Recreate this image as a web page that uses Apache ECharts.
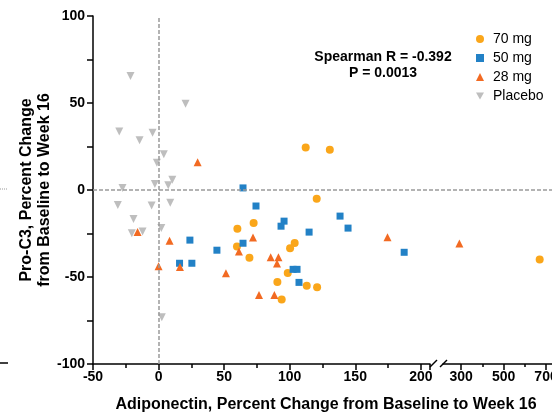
<!DOCTYPE html>
<html>
<head>
<meta charset="utf-8">
<script src="https://cdn.jsdelivr.net/npm/echarts@6/dist/echarts.min.js"></script>
<style>
  html, body { margin: 0; padding: 0; background: #fff; }
  #main { width: 552px; height: 416px; }
</style>
</head>
<body>
<div id="main"></div>
<script>
var myChart = echarts.init(document.getElementById('main'));

// values: x = adiponectin % change, y = Pro-C3 % change
var mg70X = [112.2, 130.6, 120.6, 72.5, 60.1, 103.8, 100.3, 59.8, 69.3, 98.5, 90.6, 113.0, 120.9, 93.9, 670];
var mg70Y = [24.4, 23.1, -5.0, -19.0, -22.2, -30.5, -33.5, -32.5, -38.9, -47.7, -52.9, -55.0, -55.9, -62.9, -40.0];

var mg50X = [64.4, 74.3, 95.7, 93.4, 138.4, 144.5, 114.8, 23.9, 64.4, 44.5, 16.0, 25.4, 102.6, 105.6, 107.1, 187.3];
var mg50Y = [1.2, -9.2, -17.9, -20.8, -15.0, -21.9, -24.2, -28.8, -30.6, -34.6, -42.1, -42.1, -45.6, -45.6, -53.1, -35.8];

var mg28X = [29.8, -16.0, 8.4, 0, 16.3, 72.0, 61.3, 85.5, 91.4, 90.3, 51.4, 76.6, 88.3, 174.6, 292];
var mg28Y = [15.9, -24.2, -29.1, -43.8, -44.2, -27.3, -35.4, -38.7, -38.7, -42.3, -47.9, -60.4, -60.4, -27.1, -30.8];

var placeboX = [-21.4, 20.6, -30, -4.6, -14.5, 4.0, -1.3, 10.5, -2.8, 7.4, -27.5, -31.1, -5.3, 8.9, -19.1, -20.4, -12.2, 2.1, 2.5];
var placeboY = [65.5, 49.6, 33.6, 32.9, 28.6, 20.5, 15.6, 5.9, 3.5, 2.7, 1.2, -8.6, -8.9, -7.3, -16.6, -24.9, -23.9, -21.9, -73.1];

var breakAt = 210;
var rightTicks = [300, 500, 700];
var rightMinorTicks = [400, 600];
var rightLabels = [300, 500, 700];

var font = 'Liberation Sans, Arial, sans-serif';

function points(xs, ys, right) {
  return xs.map(function (x, i) { return [x, ys[i]]; })
    .filter(function (p) { return right ? p[0] > breakAt : p[0] <= breakAt; });
}

var groups = [
  { name: '70 mg', xs: mg70X, ys: mg70Y, symbol: 'circle', size: 8, rotate: 0, color: '#FAA61A' },
  { name: '50 mg', xs: mg50X, ys: mg50Y, symbol: 'rect', size: 7, rotate: 0, color: '#2281C6' },
  { name: '28 mg', xs: mg28X, ys: mg28Y, symbol: 'triangle', size: 8, rotate: 0, color: '#F26A22' },
  { name: 'Placebo', xs: placeboX, ys: placeboY, symbol: 'triangle', size: 8, rotate: 180, color: '#BEBEBE' }
];

var series = [];
groups.forEach(function (g) {
  [false, true].forEach(function (right) {
    series.push({
      name: g.name,
      type: 'scatter',
      xAxisIndex: right ? 1 : 0,
      yAxisIndex: right ? 1 : 0,
      symbol: g.symbol,
      symbolSize: g.size,
      symbolRotate: g.rotate,
      itemStyle: { color: g.color, opacity: 1 },
      z: 3,
      data: points(g.xs, g.ys, right)
    });
  });
});

// reference lines at zero: vertical in the left panel, horizontal across both panels
var refLine = { color: '#9a9a9a', type: [4, 2], width: 1.5 };
series.push({
  type: 'line', xAxisIndex: 0, yAxisIndex: 0, data: [], z: 1,
  markLine: { silent: true, symbol: 'none', label: { show: false }, lineStyle: refLine,
    data: [{ xAxis: 0 }] }
});
series.push({
  type: 'line', xAxisIndex: 3, yAxisIndex: 2, data: [], z: 1,
  markLine: { silent: true, symbol: 'none', label: { show: false }, lineStyle: refLine,
    data: [{ yAxis: 0 }] }
});

var axisLineStyle = { color: '#000', width: 1.5 };
var tickLabel = { color: '#000', fontFamily: font, fontWeight: 'bold', fontSize: 14 };
var hidden = { axisLine: { show: false }, axisTick: { show: false }, axisLabel: { show: false }, splitLine: { show: false } };

var option = {
  animation: false,
  textStyle: { fontFamily: font },
  grid: [
    { left: 93, top: 16, width: 337, bottom: 52, outerBoundsMode: 'none' },
    { left: 443, top: 16, right: 0, bottom: 52, outerBoundsMode: 'none' },
    { left: 93, top: 16, right: 0, bottom: 52, outerBoundsMode: 'none' }
  ],
  legend: {
    orient: 'vertical',
    left: 476,
    top: 32,
    padding: 0,
    itemWidth: 8,
    itemHeight: 8,
    itemGap: 5,
    textStyle: { fontSize: 14, color: '#000', fontFamily: font, padding: [0, 0, 0, 4] },
    data: [
      { name: '70 mg', icon: 'circle' },
      { name: '50 mg', icon: 'rect' },
      { name: '28 mg', icon: 'triangle' },
      { name: 'Placebo', icon: 'path://M0,0 L10,0 L5,9 Z' }
    ]
  },
  xAxis: [
    {
      type: 'value', gridIndex: 0, min: -50, max: 207, interval: 50,
      axisLine: { show: true, onZero: false, lineStyle: axisLineStyle },
      axisTick: { show: true, length: 6, lineStyle: axisLineStyle },
      minorTick: { show: true, splitNumber: 2, length: 4, lineStyle: axisLineStyle },
      axisLabel: Object.assign({ margin: 6, showMaxLabel: false }, tickLabel),
      splitLine: { show: false }
    },
    {
      type: 'value', gridIndex: 1, min: 215, max: 728, position: 'bottom',
      axisLine: { show: true, onZero: false, lineStyle: axisLineStyle },
      axisTick: { show: true, length: 6, lineStyle: axisLineStyle, customValues: rightTicks },
      axisLabel: Object.assign({ margin: 6, customValues: rightLabels }, tickLabel),
      splitLine: { show: false }
    },
    {
      type: 'value', gridIndex: 1, min: 215, max: 728, position: 'bottom', offset: 0,
      axisLine: { show: false, onZero: false },
      axisTick: { show: true, length: 3, lineStyle: axisLineStyle, customValues: rightMinorTicks },
      axisLabel: { show: false },
      splitLine: { show: false }
    },
    Object.assign({ type: 'value', gridIndex: 2, min: 0, max: 1 }, hidden)
  ],
  yAxis: [
    {
      type: 'value', gridIndex: 0, min: -100, max: 100, interval: 50,
      name: 'Pro-C3, Percent Change\nfrom Baseline to Week 16',
      nameLocation: 'middle',
      nameGap: 39,
      nameMoveOverlap: false,
      nameTextStyle: { color: '#000', fontFamily: font, fontWeight: 'bold', fontSize: 16, lineHeight: 18 },
      axisLine: { show: true, onZero: false, lineStyle: axisLineStyle },
      axisTick: { show: true, length: 6, lineStyle: axisLineStyle },
      minorTick: { show: true, splitNumber: 2, length: 6, lineStyle: axisLineStyle },
      axisLabel: Object.assign({ margin: 8 }, tickLabel),
      splitLine: { show: false }
    },
    Object.assign({ type: 'value', gridIndex: 1, min: -100, max: 100 }, hidden),
    Object.assign({ type: 'value', gridIndex: 2, min: -100, max: 100 }, hidden)
  ],
  graphic: [
    {
      type: 'text', x: 383, y: 49,
      style: {
        text: 'Spearman R = -0.392\nP = 0.0013',
        textAlign: 'center',
        font: 'bold 14px ' + font, lineHeight: 16, fill: '#000'
      }
    },
    {
      type: 'text', x: 326, y: 397,
      style: {
        text: 'Adiponectin, Percent Change from Baseline to Week 16',
        textAlign: 'center', font: 'bold 16px ' + font, fill: '#000'
      }
    },
    { type: 'line', shape: { x1: 430, y1: 367, x2: 437, y2: 360 }, style: { stroke: '#000', lineWidth: 1.5 } },
    { type: 'line', shape: { x1: 440, y1: 367, x2: 447, y2: 360 }, style: { stroke: '#000', lineWidth: 1.5 } },
    { type: 'line', shape: { x1: 0, y1: 189, x2: 8, y2: 189 }, style: { stroke: '#999', lineWidth: 1, lineDash: [1, 1] } },
    { type: 'line', shape: { x1: 0, y1: 363, x2: 8, y2: 363 }, style: { stroke: '#000', lineWidth: 1.5 } }
  ],
  series: series
};

myChart.setOption(option);
</script>
</body>
</html>
